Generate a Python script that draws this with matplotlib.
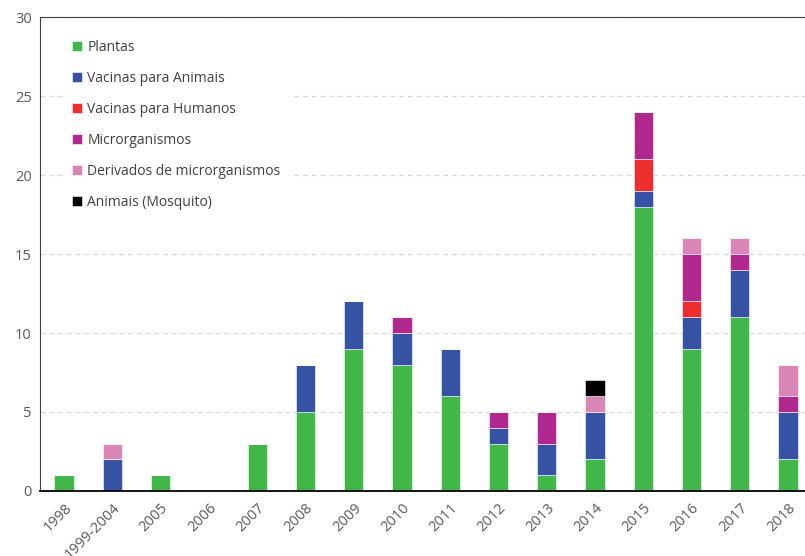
import matplotlib.pyplot as plt
import numpy as np

plt.rcParams['font.family'] = ['Open Sans', 'DejaVu Sans']

anos = ["1998", "1999-2004", "2005", "2006", "2007", "2008", "2009", "2010",
        "2011", "2012", "2013", "2014", "2015", "2016", "2017", "2018"]

plantas = [1, 0, 1, 0, 3, 5, 9, 8, 6, 3, 1, 2, 18, 9, 11, 2]
vacinas_animais = [0, 2, 0, 0, 0, 3, 3, 2, 3, 1, 2, 3, 1, 2, 3, 3]
vacinas_humanos = [0, 0, 0, 0, 0, 0, 0, 0, 0, 0, 0, 0, 2, 1, 0, 0]
microrganismos = [0, 0, 0, 0, 0, 0, 0, 1, 0, 1, 2, 0, 3, 3, 1, 1]
derivados = [0, 1, 0, 0, 0, 0, 0, 0, 0, 0, 0, 1, 0, 1, 1, 2]
mosquito = [0, 0, 0, 0, 0, 0, 0, 0, 0, 0, 0, 1, 0, 0, 0, 0]

series = [
    ("Plantas", plantas, "#41b649"),
    ("Vacinas para Animais", vacinas_animais, "#3552a4"),
    ("Vacinas para Humanos", vacinas_humanos, "#ee2e2e"),
    ("Microrganismos", microrganismos, "#b0278e"),
    ("Derivados de microrganismos", derivados, "#d986b6"),
    ("Animais (Mosquito)", mosquito, "#000000"),
]

fig = plt.figure(figsize=(8.05, 5.56), dpi=100)
ax = fig.add_axes([0.0497, 0.117, 0.9503, 0.852])

x = np.arange(len(anos))
bottom = np.zeros(len(anos))
for nome, vals, cor in series:
    vals = np.array(vals, dtype=float)
    ax.bar(x, vals, 0.4, bottom=bottom, color=cor, label=nome,
           edgecolor="white", linewidth=0.4)
    bottom += vals

ax.set_ylim(0, 30)
ax.set_xlim(-0.5, 15.35)
ax.set_yticks(range(0, 31, 5))
ax.yaxis.grid(True, linestyle=(0, (4, 3)), color="#d9d9d9", linewidth=0.9)
ax.set_axisbelow(True)

ax.set_xticks(x)
ax.set_xticklabels(anos, rotation=45, ha="right", rotation_mode="anchor")
ax.tick_params(axis="both", length=0, labelsize=10.5, colors="#595959", pad=6)
ax.tick_params(axis="x", pad=7)

ax.spines["right"].set_visible(False)
ax.spines["left"].set_color("#404040")
ax.spines["top"].set_color("#404040")
ax.spines["bottom"].set_color("black")
ax.spines["bottom"].set_linewidth(1.3)

leg = ax.legend(loc="upper left", bbox_to_anchor=(0.022, 0.985), frameon=True,
                fontsize=10, labelspacing=1.16, handlelength=0.7,
                handleheight=0.7, handletextpad=0.4, borderpad=0.6)
leg.get_frame().set_edgecolor("white")
leg.get_frame().set_facecolor("white")
leg.get_frame().set_alpha(1)
for t in leg.get_texts():
    t.set_color("#404040")

fig.savefig("out.png", dpi=100)
